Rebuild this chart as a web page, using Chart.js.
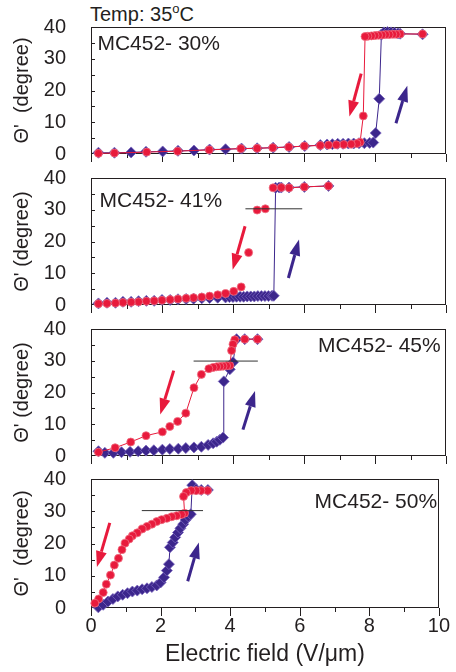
<!DOCTYPE html>
<html lang="en">
<head>
<meta charset="UTF-8">
<title>Tilt angle vs electric field</title>
<style>
  body { margin: 0; background: #fff; font-family: "Liberation Sans", Arial, sans-serif; }
  #wrap { position: relative; width: 456px; height: 672px; }
  canvas { position: absolute; left: 0; }
  #temp { position: absolute; left: 90px; top: 4px; font-size: 20px; line-height: 20px; color: #231f20; white-space: nowrap; }
  #temp sup { font-size: 13px; position: relative; top: -8px; vertical-align: baseline; }
</style>
</head>
<body>
<div id="wrap">
  <div id="temp">Temp: 35<sup>o</sup>C</div>
  <canvas id="c30" width="456" height="151" style="top:15px"></canvas>
  <canvas id="c41" width="456" height="151" style="top:166px"></canvas>
  <canvas id="c45" width="456" height="151" style="top:317px"></canvas>
  <canvas id="c50" width="456" height="201" style="top:467px"></canvas>
</div>

<script src="https://cdn.jsdelivr.net/npm/chart.js"></script>
<script>
// ---- data (field in V/um, angle in degree) ----
// blue diamonds = field going up, red circles = field going down
const up30X = [0.21, 0.66, 1.13, 1.55, 2.02, 2.45, 2.90, 3.34, 3.79, 4.24, 4.68, 5.13, 5.58, 6.02, 6.46, 6.65, 6.80, 6.95, 7.10, 7.25, 7.40, 7.55, 7.70, 7.85, 7.95, 8.02, 8.12, 8.18, 8.25, 8.35, 8.45, 8.55, 8.65, 8.71, 9.34];
const up30Y = [0.4, 0.4, 0.5, 0.7, 0.8, 1.0, 1.1, 1.4, 1.5, 1.7, 1.8, 2.0, 2.2, 2.5, 2.8, 3.0, 3.1, 3.2, 3.2, 3.3, 3.3, 3.4, 3.4, 3.5, 3.6, 6.6, 17.4, 37.6, 38.3, 38.4, 38.3, 38.2, 38.0, 37.9, 37.7];
const down30X = [9.34, 8.71, 8.60, 8.50, 8.40, 8.30, 8.20, 8.10, 8.00, 7.90, 7.80, 7.72, 7.67, 7.58, 7.49, 7.33, 7.12, 6.91, 6.69, 6.46, 6.01, 5.57, 5.12, 4.68, 4.22, 3.33, 2.44, 1.57, 0.66, 0.21];
const down30Y = [37.8, 37.8, 37.7, 37.7, 37.6, 37.6, 37.5, 37.4, 37.3, 37.2, 37.1, 37.0, 12.0, 3.7, 3.3, 3.1, 3.0, 2.9, 2.8, 2.7, 2.5, 2.2, 2.0, 1.8, 1.7, 1.3, 0.9, 0.6, 0.3, 0.2];

const up41X = [0.21, 0.45, 0.69, 0.90, 1.13, 1.34, 1.56, 1.78, 2.00, 2.23, 2.45, 2.68, 2.89, 3.12, 3.34, 3.57, 3.79, 3.90, 4.00, 4.10, 4.20, 4.30, 4.40, 4.50, 4.60, 4.70, 4.80, 4.90, 5.00, 5.10, 5.15, 5.20, 5.30, 5.36, 5.58, 6.01, 6.69];
const up41Y = [0.5, 0.7, 0.7, 1.0, 1.0, 1.2, 1.3, 1.3, 1.6, 1.6, 1.8, 1.9, 2.0, 2.1, 2.2, 2.3, 2.4, 2.5, 2.5, 2.6, 2.6, 2.6, 2.7, 2.7, 2.7, 2.8, 2.8, 2.8, 2.8, 2.9, 2.9, 36.9, 37.0, 37.0, 37.0, 37.2, 37.5];
const down41X = [6.69, 6.01, 5.58, 5.36, 5.13, 5.02, 4.91, 4.68, 4.56, 4.44, 4.34, 4.23, 4.02, 3.79, 3.57, 3.34, 3.12, 2.89, 2.68, 2.45, 2.23, 2.00, 1.78, 1.56, 1.34, 1.13, 0.90, 0.69, 0.45, 0.21];
const down41Y = [37.5, 37.2, 36.9, 37.0, 36.9, null, 30.3, 29.9, null, 16.5, null, 5.7, 4.3, 3.6, 3.2, 2.8, 2.5, 2.3, 2.1, 1.9, 1.7, 1.5, 1.3, 1.2, 1.0, 0.9, 0.8, 0.6, 0.5, 0.4];

const up45X = [0.21, 0.39, 0.63, 0.86, 1.10, 1.33, 1.55, 1.77, 2.01, 2.22, 2.46, 2.67, 2.90, 3.11, 3.30, 3.44, 3.54, 3.63, 3.72, 3.74, 3.91, 4.00, 4.10, 4.33, 4.69];
const up45Y = [1.5, 1.0, 1.0, 1.2, 1.3, 1.5, 1.7, 1.8, 2.0, 2.2, 2.3, 2.5, 2.7, 2.9, 3.5, 4.0, 4.5, 5.1, 5.8, 23.5, 27.3, 29.5, 36.8, 36.8, 36.8];
const down45X = [4.69, 4.33, 4.05, 4.00, 3.96, 3.91, 3.82, 3.72, 3.63, 3.54, 3.44, 3.32, 3.11, 2.90, 2.67, 2.44, 2.22, 2.01, 1.55, 1.12, 0.68, 0.21];
const down45Y = [36.8, 36.8, 36.6, 35.2, 33.2, 28.5, 28.4, 28.3, 28.2, 28.1, 27.9, 27.5, 25.7, 21.5, 13.5, 10.9, 9.3, 7.6, 6.4, 4.4, 2.6, 1.2];

const up50X = [0.21, 0.35, 0.49, 0.63, 0.77, 0.91, 1.05, 1.19, 1.33, 1.47, 1.61, 1.75, 1.89, 2.00, 2.10, 2.18, 2.24, 2.27, 2.35, 2.42, 2.50, 2.57, 2.65, 2.72, 2.80, 2.87, 2.91, 3.02, 3.17, 3.36];
const up50Y = [0.2, 1.0, 2.0, 2.8, 3.6, 4.1, 4.6, 5.1, 5.4, 5.8, 6.1, 6.5, 7.0, 7.9, 9.5, 11.6, 13.6, 18.8, 20.3, 21.9, 23.4, 24.7, 26.0, 27.3, 28.4, 29.1, 38.1, 36.8, 36.6, 36.6];
const down50X = [3.35, 3.16, 3.02, 2.88, 2.74, 2.66, 2.69, 2.60, 2.46, 2.32, 2.18, 2.03, 1.89, 1.75, 1.61, 1.47, 1.33, 1.19, 1.10, 0.98, 0.89, 0.79, 0.67, 0.56, 0.44, 0.35, 0.22, 0.11];
const down50Y = [36.4, 36.4, 36.4, 36.4, 35.8, 34.6, 29.4, 29.0, 28.6, 28.3, 27.8, 27.4, 26.8, 26.0, 25.3, 24.5, 23.3, 22.4, 21.4, 20.1, 18.1, 15.4, 13.3, 10.2, 7.4, 4.8, 2.8, 1.5];

// reference line near 30 degree: [xStart, xEnd, y]
const ref41 = [4.35, 5.95, 30.3];
const ref45 = [2.89, 4.70, 29.9];
const ref50 = [1.46, 3.22, 30.2];

// direction arrows in data units: [x1, y1, x2, y2] (head at x2,y2)
const arrows30 = { down: [7.61, 25.3, 7.28, 11.8], up: [8.59, 9.7, 8.91, 21.5] };
const arrows41 = { down: [4.34, 24.8, 3.99, 11.1], up: [5.56, 8.5, 5.86, 20.6] };
const arrows45 = { down: [2.33, 26.9, 1.95, 13.1], up: [4.28, 8.3, 4.62, 20.5] };
const arrows50 = { down: [0.54, 26.4, 0.17, 12.7], up: [2.78, 8.3, 3.10, 20.3] };

const yTicks = [0, 10, 20, 30, 40];
const xTicks = [0, 2, 4, 6, 8, 10];

const RED = 'rgb(232, 26, 60)';
const BLUE = 'rgb(60, 38, 140)';
const INK = '#231f20';
const FONT = '"Liberation Sans", Arial, sans-serif';

function toPts(xs, ys) {
  return xs.map((v, i) => ({ x: v, y: ys[i] }));
}

function drawArrow(ctx, x1, y1, x2, y2, color) {
  const ang = Math.atan2(y2 - y1, x2 - x1);
  const head = 16, half = 5.5;
  const bx = x2 - head * Math.cos(ang), by = y2 - head * Math.sin(ang);
  ctx.strokeStyle = color;
  ctx.lineWidth = 3;
  ctx.beginPath(); ctx.moveTo(x1, y1); ctx.lineTo(bx, by); ctx.stroke();
  ctx.fillStyle = color;
  ctx.beginPath();
  ctx.moveTo(x2, y2);
  ctx.lineTo(bx + half * Math.sin(ang), by - half * Math.cos(ang));
  ctx.lineTo(bx - half * Math.sin(ang), by + half * Math.cos(ang));
  ctx.closePath(); ctx.fill();
}

// box, inward y ticks, outward x ticks
const framePlugin = {
  id: 'frame',
  beforeDatasetsDraw(chart) {
    const { ctx, chartArea: a, scales: { x, y } } = chart;
    ctx.save();
    ctx.strokeStyle = INK;
    ctx.lineWidth = 1;
    ctx.strokeRect(Math.round(a.left) + 0.5, Math.round(a.top) + 0.5, Math.round(a.width) - 1, Math.round(a.height) - 1);
    ctx.beginPath();
    for (let v = 5; v < 40; v += 5) {
      const py = Math.round(y.getPixelForValue(v)) + 0.5;
      ctx.moveTo(a.left, py); ctx.lineTo(a.left + 4, py);
    }
    for (let v = 0; v <= 10; v++) {
      const px = Math.round(x.getPixelForValue(v)) + 0.5;
      ctx.moveTo(px, a.bottom); ctx.lineTo(px, a.bottom + (v % 2 ? 4 : 8));
    }
    ctx.stroke();
    ctx.restore();
  },
  afterDatasetsDraw(chart, args, opts) {
    const { ctx, scales: { x, y } } = chart;
    ctx.save();
    const d = opts.arrows.down, u = opts.arrows.up;
    drawArrow(ctx, x.getPixelForValue(d[0]), y.getPixelForValue(d[1]), x.getPixelForValue(d[2]), y.getPixelForValue(d[3]), RED);
    drawArrow(ctx, x.getPixelForValue(u[0]), y.getPixelForValue(u[1]), x.getPixelForValue(u[2]), y.getPixelForValue(u[3]), BLUE);
    ctx.fillStyle = INK;
    ctx.font = '21px ' + FONT;
    ctx.textAlign = opts.align;
    ctx.textBaseline = 'alphabetic';
    ctx.fillText(opts.label, x.getPixelForValue(opts.at[0]), y.getPixelForValue(opts.at[1]));
    ctx.restore();
  }
};

function makePanel(id, p) {
  const datasets = [];
  if (p.ref) {
    datasets.push({
      data: [{ x: p.ref[0], y: p.ref[2] }, { x: p.ref[1], y: p.ref[2] }],
      showLine: true, borderColor: '#333', borderWidth: 1, pointRadius: 0
    });
  }
  datasets.push({
    data: toPts(p.downX, p.downY),
    showLine: true, spanGaps: false, borderColor: RED, borderWidth: 1,
    pointStyle: 'circle', pointRadius: 4, pointBackgroundColor: RED,
    pointBorderColor: 'rgb(240, 110, 130)', pointBorderWidth: 0.8, clip: false
  });
  datasets.push({
    data: toPts(p.upX, p.upY),
    showLine: true, borderColor: BLUE, borderWidth: 1,
    pointStyle: 'rectRot', pointRadius: 5.5, pointBackgroundColor: BLUE,
    pointBorderColor: 'rgb(120, 100, 190)', pointBorderWidth: 0.8, clip: false
  });

  new Chart(document.getElementById(id), {
    type: 'scatter',
    data: { datasets },
    options: {
      responsive: false,
      animation: false,
      layout: { padding: { top: 12, right: 10, left: 0, bottom: 0 } },
      plugins: {
        legend: { display: false },
        tooltip: { enabled: false },
        frame: { arrows: p.arrows, label: p.label, align: p.align, at: p.at }
      },
      scales: {
        x: {
          type: 'linear', min: 0, max: 10,
          afterFit: s => { s.height = p.bottom ? 60 : 10; },
          afterBuildTicks: s => { s.ticks = xTicks.map(v => ({ value: v })); },
          ticks: { display: !!p.bottom, padding: 6, color: INK, font: { size: 20, family: FONT } },
          grid: { display: false, drawTicks: false },
          border: { display: false },
          title: {
            display: !!p.bottom, text: 'Electric field (V/\u03bcm)', color: INK,
            font: { size: 23, family: FONT }, padding: { top: 0, bottom: 0 }
          }
        },
        y: {
          min: 0, max: 40,
          afterFit: s => { s.width = 91; },
          afterBuildTicks: s => { s.ticks = yTicks.map(v => ({ value: v })); },
          // the gap between labels and axis comes from an invisible tick length,
          // so the tick padding does not push the plot area down
          ticks: { padding: 0, color: INK, font: { size: 20, family: FONT } },
          grid: { display: false, drawTicks: true, tickLength: 25 },
          border: { display: false },
          title: {
            display: true, text: p.yTitle, color: INK,
            font: { size: 20, family: FONT }, padding: { top: 10, bottom: 0 }
          }
        }
      }
    },
    plugins: [framePlugin]
  });
}

makePanel('c30', { upX: up30X, upY: up30Y, downX: down30X, downY: down30Y, arrows: arrows30,
  label: 'MC452- 30%', align: 'left', at: [0.18, 32.8], yTitle: "\u0398'  (degree)" });
makePanel('c41', { upX: up41X, upY: up41Y, downX: down41X, downY: down41Y, arrows: arrows41, ref: ref41,
  label: 'MC452- 41%', align: 'left', at: [0.24, 31.0], yTitle: "\u0398' (degree)" });
makePanel('c45', { upX: up45X, upY: up45Y, downX: down45X, downY: down45Y, arrows: arrows45, ref: ref45,
  label: 'MC452- 45%', align: 'right', at: [9.85, 32.9], yTitle: "\u0398' (degree)" });
makePanel('c50', { upX: up50X, upY: up50Y, downX: down50X, downY: down50Y, arrows: arrows50, ref: ref50,
  label: 'MC452- 50%', align: 'right', at: [9.95, 31.0], yTitle: "\u0398'  (degree)", bottom: true });
</script>
</body>
</html>
